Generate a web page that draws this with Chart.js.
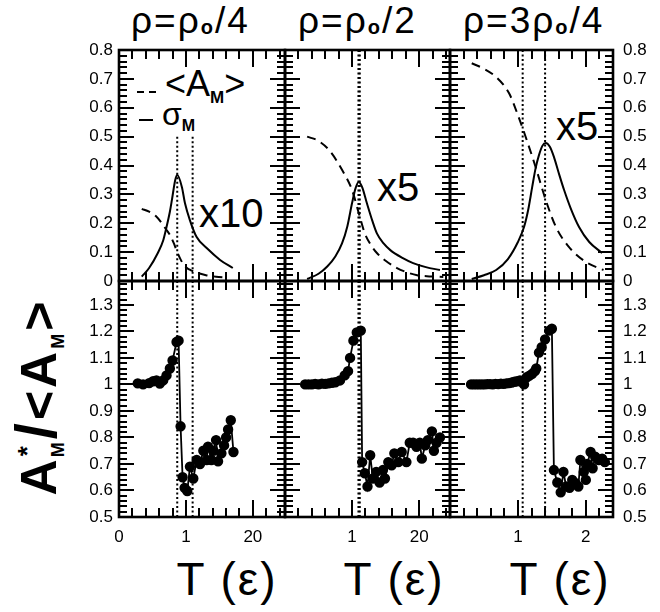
<!DOCTYPE html>
<html>
<head>
<meta charset="utf-8">
<script src="https://cdn.jsdelivr.net/npm/chart.js@4.4.0/dist/chart.umd.min.js"></script>
<style>
html, body { margin: 0; padding: 0; background: #fff; }
#wrap { position: relative; width: 660px; height: 612px; overflow: hidden; font-family: "Liberation Sans", Arial, sans-serif; color: #000; }
#wrap canvas { position: absolute; left: 0; top: 0; }
.t { position: absolute; white-space: nowrap; line-height: 1; }
.c { transform: translate(-50%, -50%); }
.sb { display: inline-block; font-weight: bold; position: relative; }
</style>
</head>
<body>
<div id="wrap">
  <!-- titres du haut -->
  <div class="t" style="left:131px;top:2px;font-size:37px;letter-spacing:2px">ρ=ρ<span class="sb" style="font-size:20px;top:1px">o</span>/4</div>
  <div class="t" style="left:298px;top:2px;font-size:37px;letter-spacing:2px">ρ=ρ<span class="sb" style="font-size:20px;top:1px">o</span>/2</div>
  <div class="t" style="left:463px;top:2px;font-size:37px;letter-spacing:2px">ρ=3ρ<span class="sb" style="font-size:20px;top:1px">o</span>/4</div>

  <!-- légende -->
  <div class="t" style="left:165px;top:66px;font-size:36px">&lt;A<span class="sb" style="font-size:17px;top:7px">M</span>&gt;</div>
  <div class="t" style="left:162px;top:98px;font-size:32px">σ<span class="sb" style="font-size:16px;top:6px">M</span></div>

  <!-- facteurs -->
  <div class="t" style="left:199px;top:193px;font-size:40px">x10</div>
  <div class="t" style="left:377px;top:167px;font-size:40px">x5</div>
  <div class="t" style="left:556px;top:106px;font-size:40px">x5</div>

  <!-- titres des axes -->
  <div class="t c" style="left:36px;top:397px;font-size:50px;font-weight:bold;letter-spacing:3px;transform:translate(-50%,-50%) rotate(-90deg)">A<span class="sb" style="font-size:26px;top:-20px">*</span><span class="sb" style="font-size:18px;top:8px;margin-left:-14px">M</span><span style="font-size:58px">/</span>&lt;A<span class="sb" style="font-size:18px;top:8px">M</span>&gt;</div>
  <div class="t c" style="left:227px;top:579px;font-size:46px;letter-spacing:2px">T (ε)</div>
  <div class="t c" style="left:394px;top:579px;font-size:46px;letter-spacing:2px">T (ε)</div>
  <div class="t c" style="left:560px;top:579px;font-size:46px;letter-spacing:2px">T (ε)</div>
</div>
<script>
// --- bornes des axes ---
const xMax = [2.48, 2.46, 2.40];
const topRange = [0, 0.8];
const botRange = [0.5, 1.39];
const topYLabels = ['0', '0.1', '0.2', '0.3', '0.4', '0.5', '0.6', '0.7', '0.8'];
const botYLabels = ['0.5', '0.6', '0.7', '0.8', '0.9', '1', '1.1', '1.2', '1.3'];
const xTickValues = [0, 1, 2];
const xTickLabels = [['0', '1', '20'], [null, '1', '20'], [null, '1', '2']];

// petites graduations (pas 0.2 en T, 0.02 en ordonnée)
const xMinor = Array.from({ length: 13 }, (_, i) => i / 5);
const yMinorTop = Array.from({ length: 41 }, (_, i) => i / 50);
const yMinorBot = Array.from({ length: 45 }, (_, i) => 0.5 + i / 50);

// --- rho0/4 ---
const tMean1 = [0.34, 0.45, 0.55, 0.64, 0.70, 0.76, 0.82, 0.87, 0.92, 0.98, 1.05, 1.15, 1.3, 1.45, 1.63];
const mean1 = [0.25, 0.24, 0.225, 0.20, 0.18, 0.16, 0.13, 0.10, 0.075, 0.052, 0.04, 0.03, 0.02, 0.015, 0.012];
const tSig1 = [0.34, 0.45, 0.58, 0.66, 0.71, 0.76, 0.79, 0.84, 0.87, 0.94, 0.985, 1.06, 1.16, 1.31, 1.51, 1.70];
const sig1 = [0.015, 0.045, 0.097, 0.14, 0.187, 0.24, 0.28, 0.35, 0.367, 0.325, 0.27, 0.21, 0.152, 0.114, 0.073, 0.045];
const tRatio1 = [0.28, 0.36, 0.45, 0.51, 0.56, 0.61, 0.66, 0.71, 0.76, 0.80, 0.86, 0.89, 0.92, 0.95, 0.98, 1.02, 1.06, 1.11, 1.16, 1.21, 1.26, 1.31, 1.33, 1.38, 1.41, 1.45, 1.48, 1.53, 1.57, 1.60, 1.63, 1.67, 1.71];
const ratio1 = [1.004, 1.0, 1.005, 1.012, 1.015, 1.003, 1.015, 1.034, 1.06, 1.09, 1.16, 1.165, 0.842, 0.65, 0.61, 0.598, 0.69, 0.645, 0.715, 0.70, 0.75, 0.715, 0.765, 0.715, 0.75, 0.79, 0.71, 0.74, 0.77, 0.80, 0.83, 0.865, 0.745];
const lines1 = [0.87, 1.10];

// --- rho0/2 ---
const tMean2 = [0.33, 0.5, 0.67, 0.85, 1.0, 1.10, 1.19, 1.28, 1.37, 1.5, 1.67, 1.82, 1.97, 2.15, 2.36];
const mean2 = [0.5, 0.485, 0.45, 0.385, 0.315, 0.235, 0.165, 0.125, 0.097, 0.07, 0.045, 0.03, 0.02, 0.016, 0.014];
const tSig2 = [0.33, 0.5, 0.63, 0.75, 0.85, 0.93, 1.0, 1.05, 1.10, 1.15, 1.22, 1.3, 1.37, 1.47, 1.57, 1.75, 1.91, 2.1, 2.31];
const sig2 = [0.007, 0.025, 0.05, 0.085, 0.13, 0.19, 0.27, 0.32, 0.343, 0.325, 0.27, 0.21, 0.165, 0.13, 0.107, 0.08, 0.062, 0.048, 0.038];
const tRatio2 = [0.30, 0.35, 0.40, 0.45, 0.50, 0.55, 0.60, 0.65, 0.70, 0.75, 0.82, 0.89, 0.94, 0.97, 1.02, 1.07, 1.13, 1.15, 1.19, 1.23, 1.27, 1.31, 1.36, 1.41, 1.46, 1.49, 1.54, 1.59, 1.63, 1.69, 1.74, 1.81, 1.86, 1.91, 1.96, 2.01, 2.04, 2.09, 2.13, 2.19, 2.22, 2.26, 2.31];
const ratio2 = [1.0, 1.0, 1.0, 1.002, 1.0, 1.003, 1.002, 1.004, 1.006, 1.008, 1.015, 1.034, 1.05, 1.10, 1.165, 1.196, 1.203, 0.707, 0.665, 0.615, 0.733, 0.645, 0.67, 0.63, 0.677, 0.645, 0.707, 0.695, 0.74, 0.707, 0.745, 0.707, 0.78, 0.78, 0.765, 0.78, 0.72, 0.77, 0.79, 0.823, 0.75, 0.78, 0.80];
const lines2 = [1.095, 1.115];

// --- 3 rho0/4 ---
const tMean3 = [0.32, 0.5, 0.68, 0.87, 1.01, 1.13, 1.26, 1.41, 1.56, 1.75, 2.0, 2.26];
const mean3 = [0.754, 0.735, 0.706, 0.65, 0.568, 0.488, 0.395, 0.28, 0.187, 0.118, 0.066, 0.038];
const tSig3 = [0.32, 0.5, 0.68, 0.85, 1.0, 1.09, 1.15, 1.21, 1.26, 1.31, 1.36, 1.41, 1.47, 1.53, 1.60, 1.68, 1.78, 1.90, 2.05, 2.24];
const sig3 = [0.007, 0.02, 0.038, 0.075, 0.135, 0.187, 0.245, 0.325, 0.39, 0.436, 0.468, 0.478, 0.465, 0.43, 0.375, 0.315, 0.25, 0.187, 0.135, 0.097];
const tRatio3 = [0.31, 0.35, 0.39, 0.43, 0.47, 0.51, 0.55, 0.59, 0.63, 0.67, 0.71, 0.75, 0.79, 0.83, 0.87, 0.91, 0.95, 0.99, 1.03, 1.06, 1.09, 1.13, 1.17, 1.21, 1.25, 1.27, 1.31, 1.35, 1.40, 1.46, 1.50, 1.53, 1.58, 1.63, 1.67, 1.71, 1.76, 1.80, 1.85, 1.89, 1.92, 1.97, 2.0, 2.02, 2.07, 2.10, 2.14, 2.19, 2.24, 2.28];
const ratio3 = [1.0, 1.0, 1.0, 1.0, 1.0, 1.0, 1.001, 1.001, 1.0, 1.002, 1.001, 1.003, 1.002, 1.004, 1.005, 1.007, 1.01, 1.012, 1.015, 1.01, 1.0, 1.027, 1.033, 1.04, 1.05, 1.06, 1.12, 1.14, 1.17, 1.203, 1.21, 0.677, 0.63, 0.593, 0.67, 0.615, 0.61, 0.64, 0.627, 0.615, 0.715, 0.67, 0.64, 0.70, 0.745, 0.684, 0.727, 0.715, 0.72, 0.707, 0.695];
const lines3 = [1.07, 1.40];

const pts = (xs, ys) => xs.map((x, i) => ({ x, y: ys[i] }));

// zones des cadres, en pixels
const colEdges = [[119, 285], [285, 450], [450, 613]];
const rowEdges = [[50, 281], [281, 517]];

// cadre ROOT: ticks vers l'intérieur sur les 4 côtés + étiquettes
const rootFrame = {
  id: 'rootFrame',
  afterDraw(chart) {
    const o = chart.options.plugins.rootFrame;
    const ctx = chart.ctx, a = chart.chartArea, x = chart.scales.x, y = chart.scales.y;
    ctx.save();
    ctx.globalCompositeOperation = 'source-over';
    ctx.globalAlpha = 1;
    ctx.fillStyle = '#000';
    xMinor.forEach((v, i) => {
      const px = Math.round(x.getPixelForValue(v));
      if (px > a.right + 1) return;
      const len = i % 5 === 0 ? 17 : 9;
      ctx.fillRect(px - 1, a.bottom - len, 2, len);
      ctx.fillRect(px - 1, a.top, 2, len);
    });
    const ys = o.row === 0 ? yMinorTop : yMinorBot;
    ys.forEach((v, i) => {
      const py = Math.round(y.getPixelForValue(v));
      if (py < a.top - 1) return;
      const len = i % 5 === 0 ? 15 : 8;
      ctx.fillRect(a.left, py - 1, len, 2);
      ctx.fillRect(a.right - len, py - 1, len, 2);
    });
    ctx.strokeStyle = '#000';
    ctx.setLineDash([]);
    ctx.lineWidth = 2.6;
    ctx.strokeRect(a.left, a.top, a.right - a.left, a.bottom - a.top);

    ctx.font = '17px "Liberation Sans", Arial, sans-serif';
    ctx.textBaseline = 'middle';
    const labels = o.row === 0 ? topYLabels : botYLabels;
    labels.forEach((lab) => {
      const py = y.getPixelForValue(parseFloat(lab));
      if (o.col === 0) { ctx.textAlign = 'right'; ctx.fillText(lab, a.left - 6, py); }
      if (o.col === 2) { ctx.textAlign = 'left'; ctx.fillText(lab, a.right + 10, py); }
    });
    if (o.row === 1) {
      ctx.textAlign = 'center';
      xTickValues.forEach((v, i) => {
        const lab = xTickLabels[o.col][i];
        if (lab) ctx.fillText(lab, x.getPixelForValue(v), a.bottom + 20);
      });
    }
    if (o.row === 0 && o.col === 0) {
      // échantillons de la légende
      ctx.fillRect(137, 91, 7, 2);
      ctx.fillRect(149, 91, 7, 2);
      ctx.fillRect(139, 119, 14, 2);
    }
    ctx.restore();
  }
};

function vline(t, from, to) {
  return { data: [{ x: t, y: from }, { x: t, y: to }], borderWidth: 2, borderDash: [2, 2.5], pointRadius: 0, cubicInterpolationMode: 'default' };
}
function curve(xs, ys, dash) {
  return { data: pts(xs, ys), borderWidth: 2, borderDash: dash, pointRadius: 0, cubicInterpolationMode: 'monotone' };
}
function markers(xs, ys) {
  return { data: pts(xs, ys), borderWidth: 1.8, pointRadius: 4.3, tension: 0 };
}

const panels = [
  { row: 0, col: 0, datasets: [curve(tMean1, mean1, [9, 6]), curve(tSig1, sig1, []), ...lines1.map(t => vline(t, 0.5, 0))] },
  { row: 0, col: 1, datasets: [curve(tMean2, mean2, [9, 6]), curve(tSig2, sig2, []), ...lines2.map(t => vline(t, 0.8, 0))] },
  { row: 0, col: 2, datasets: [curve(tMean3, mean3, [9, 6]), curve(tSig3, sig3, []), ...lines3.map(t => vline(t, 0.8, 0))] },
  { row: 1, col: 0, datasets: [markers(tRatio1, ratio1), ...lines1.map(t => vline(t, 1.39, 0.5))] },
  { row: 1, col: 1, datasets: [markers(tRatio2, ratio2), ...lines2.map(t => vline(t, 1.39, 0.5))] },
  { row: 1, col: 2, datasets: [markers(tRatio3, ratio3), ...lines3.map(t => vline(t, 1.39, 0.5))] }
];

const wrap = document.getElementById('wrap');
panels.forEach(p => {
  const cv = document.createElement('canvas');
  cv.width = 660; cv.height = 612;
  wrap.appendChild(cv);
  const [x0, x1] = colEdges[p.col];
  const [y0, y1] = rowEdges[p.row];
  const range = p.row === 0 ? topRange : botRange;
  p.datasets.forEach(d => {
    d.borderColor = '#000';
    d.backgroundColor = '#000';
    d.pointBackgroundColor = '#000';
    d.pointBorderColor = '#000';
  });
  new Chart(cv, {
    type: 'line',
    data: { datasets: p.datasets },
    options: {
      responsive: false,
      animation: false,
      devicePixelRatio: 1,
      layout: { padding: { left: x0, right: 660 - x1, top: y0, bottom: 612 - y1 } },
      plugins: { legend: { display: false }, tooltip: { enabled: false }, rootFrame: { row: p.row, col: p.col } },
      scales: {
        x: { type: 'linear', min: 0, max: xMax[p.col], display: false },
        y: { type: 'linear', min: range[0], max: range[1], display: false }
      }
    },
    plugins: [rootFrame]
  });
});
</script>
</body>
</html>
